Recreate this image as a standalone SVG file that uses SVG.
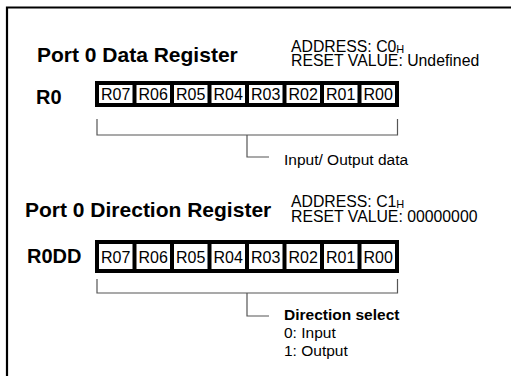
<svg xmlns="http://www.w3.org/2000/svg" width="513" height="376" viewBox="0 0 513 376">
<style>
text{font-family:"Liberation Sans",Arial,sans-serif;fill:#000}
.title{font-size:21px;font-weight:bold}
.lbl{font-size:20px;font-weight:bold}
.info{font-size:15.8px}
.cell{font-size:16px;text-anchor:middle}
.desc{font-size:15.5px}
.bold{font-weight:bold}
.sub{font-size:11px}
.reg{fill:#000}
.c{fill:#fff}
.br{fill:none;stroke:#555;stroke-width:1.2}
</style>
<rect width="513" height="376" fill="#fff"/>
<path d="M7,376 V7.5 H511" fill="none" stroke="#000" stroke-width="2.2"/>

<g id="r0-header">
<text class="title" x="37" y="61.5">Port 0 Data Register</text>
<text class="info" x="291" y="51.5">ADDRESS: C0<tspan class="sub" dy="1.5">H</tspan></text>
<text class="info" x="291" y="66">RESET VALUE: Undefined</text>
</g>

<g id="r0">
<text class="lbl" x="36" y="104">R0</text>
<rect class="reg" x="95" y="81" width="304" height="26"/>
<rect class="c" x="99" y="85" width="33.5" height="18"/>
<rect class="c" x="136.5" y="85" width="33.5" height="18"/>
<rect class="c" x="174" y="85" width="33.5" height="18"/>
<rect class="c" x="211.5" y="85" width="33.5" height="18"/>
<rect class="c" x="249" y="85" width="33.5" height="18"/>
<rect class="c" x="286.5" y="85" width="33.5" height="18"/>
<rect class="c" x="324" y="85" width="33.5" height="18"/>
<rect class="c" x="361.5" y="85" width="33.5" height="18"/>
<text class="cell" x="115.75" y="100">R07</text>
<text class="cell" x="153.25" y="100">R06</text>
<text class="cell" x="190.75" y="100">R05</text>
<text class="cell" x="228.25" y="100">R04</text>
<text class="cell" x="265.75" y="100">R03</text>
<text class="cell" x="303.25" y="100">R02</text>
<text class="cell" x="340.75" y="100">R01</text>
<text class="cell" x="378.25" y="100">R00</text>
</g>

<g id="r0-desc">
<text class="desc" x="284" y="165">Input/ Output data</text>
</g>

<g id="r0dd-header">
<text class="title" x="25" y="217">Port 0 Direction Register</text>
<text class="info" x="291" y="206.5">ADDRESS: C1<tspan class="sub" dy="1.5">H</tspan></text>
<text class="info" x="291" y="221.5">RESET VALUE: 00000000</text>
</g>

<g id="r0dd">
<text class="lbl" x="27" y="263">R0DD</text>
<rect class="reg" x="95" y="240" width="304" height="33"/>
<rect class="c" x="99" y="244" width="33.5" height="25"/>
<rect class="c" x="136.5" y="244" width="33.5" height="25"/>
<rect class="c" x="174" y="244" width="33.5" height="25"/>
<rect class="c" x="211.5" y="244" width="33.5" height="25"/>
<rect class="c" x="249" y="244" width="33.5" height="25"/>
<rect class="c" x="286.5" y="244" width="33.5" height="25"/>
<rect class="c" x="324" y="244" width="33.5" height="25"/>
<rect class="c" x="361.5" y="244" width="33.5" height="25"/>
<text class="cell" x="115.75" y="262.5">R07</text>
<text class="cell" x="153.25" y="262.5">R06</text>
<text class="cell" x="190.75" y="262.5">R05</text>
<text class="cell" x="228.25" y="262.5">R04</text>
<text class="cell" x="265.75" y="262.5">R03</text>
<text class="cell" x="303.25" y="262.5">R02</text>
<text class="cell" x="340.75" y="262.5">R01</text>
<text class="cell" x="378.25" y="262.5">R00</text>
</g>

<g id="r0dd-desc">
<text class="desc bold" x="284" y="320">Direction select</text>
<text class="desc" x="284" y="338">0: Input</text>
<text class="desc" x="284" y="356">1: Output</text>
</g>

<g id="connectors">
<path class="br" d="M97,119 V135 H397.5 V119 M247,135 V157 H269"/>
<path class="br" d="M97,279 V293 H397.5 V279 M247,293 V316 H269"/>
</g>
</svg>
